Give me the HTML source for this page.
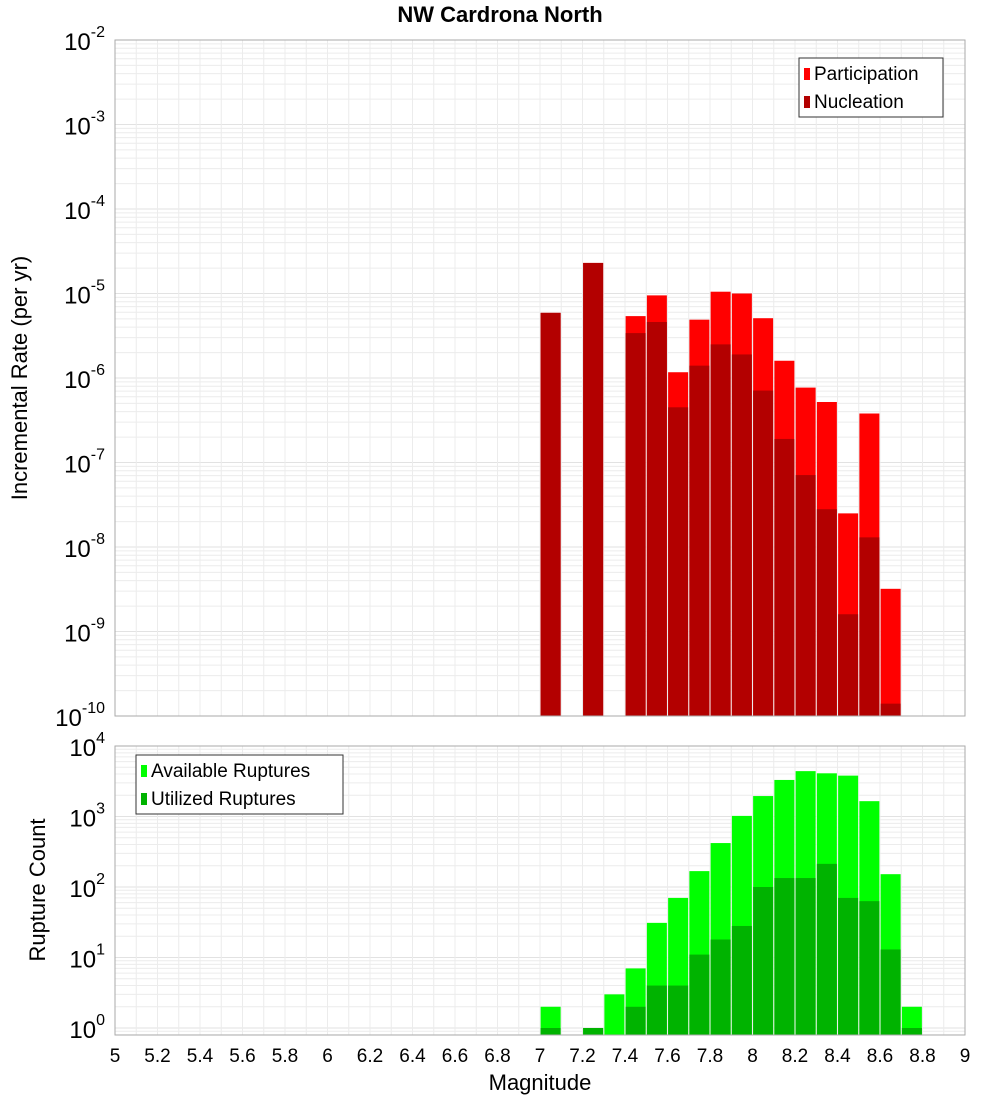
<!DOCTYPE html>
<html><head><meta charset="utf-8"><style>
body{margin:0;background:#fff;}
svg{display:block;font-family:"Liberation Sans","DejaVu Sans",sans-serif;}
</style></head><body>
<svg id="c" width="1000" height="1100" xmlns="http://www.w3.org/2000/svg"></svg>
<script>
const mags = [7.05,7.25,7.45,7.55,7.65,7.75,7.85,7.95,8.05,8.15,8.25,8.35,8.45,8.55,8.65];
const participation = [5.9e-6,2.3e-5,5.4e-6,9.5e-6,1.17e-6,4.9e-6,1.05e-5,1.0e-5,5.1e-6,1.6e-6,7.7e-7,5.2e-7,2.5e-8,3.8e-7,3.2e-9];
const nucleation = [5.9e-6,2.3e-5,3.4e-6,4.6e-6,4.5e-7,1.4e-6,2.5e-6,1.9e-6,7.1e-7,1.9e-7,7.1e-8,2.8e-8,1.6e-9,1.3e-8,1.4e-10];
const countMags = [7.05,7.25,7.35,7.45,7.55,7.65,7.75,7.85,7.95,8.05,8.15,8.25,8.35,8.45,8.55,8.65,8.75];
const available = [2,1,3,7,31,70,168,420,1020,1950,3300,4400,4100,3800,1650,152,2];
const utilized = [1,1,0,2,4,4,11,18,28,100,134,134,213,70,63,13,1];
const xTicks = [5,5.2,5.4,5.6,5.8,6,6.2,6.4,6.6,6.8,7,7.2,7.4,7.6,7.8,8,8.2,8.4,8.6,8.8,9];
const topExps = [-2,-3,-4,-5,-6,-7,-8,-9,-10];
const botExps = [4,3,2,1,0];

const NS="http://www.w3.org/2000/svg", svg=document.getElementById('c');
function el(t,a,p){const e=document.createElementNS(NS,t);for(const k in a)e.setAttribute(k,a[k]);(p||svg).appendChild(e);return e;}
const L=115,R=965;
const x=m=>L+(m-5)*(R-L)/4;
const T1=40,B1=716, yTop=v=>T1+(-2-Math.log10(v))*(B1-T1)/8;
const T2=746, y0=1028, B2=1035, D2=(y0-T2)/4, yBot=v=>y0-Math.log10(v)*D2;

// grids
function grid(top,bot,yf,eLo,eHi){
  const g=el('g',{});
  
  for(let e=eLo;e<eHi;e++)for(let k=1;k<10;k++){const v=k*Math.pow(10,e),y=yf(v);if(y<top-0.5||y>bot+0.5)continue;
    el('line',{x1:L,x2:R,y1:y,y2:y,stroke:k==1?'#e2e2e2':'#ececec','stroke-width':1},g);}
  for(let m=5.1;m<9;m+=0.1){const xx=x(m);el('line',{x1:xx,x2:xx,y1:top,y2:bot,stroke:'#ececec','stroke-width':1},g);}
}
grid(T1,B1,yTop,-10,-1);
grid(T2,B2,yBot,-1,5);

// top bars
const bw=20;
mags.forEach((m,i)=>{
  const r=el('rect',{x:x(m)-bw/2,y:yTop(participation[i]),width:bw,height:B1-yTop(participation[i]),fill:'#ff0000'});
  
  const n=el('rect',{x:x(m)-bw/2,y:yTop(nucleation[i]),width:bw,height:B1-yTop(nucleation[i]),fill:'#b30000'});
  
});
countMags.forEach((m,i)=>{
  const a=el('rect',{x:x(m)-bw/2,y:yBot(available[i]),width:bw,height:B2-yBot(available[i]),fill:'#00ff00'});
  
  if(utilized[i]>0){const u=el('rect',{x:x(m)-bw/2,y:yBot(utilized[i]),width:bw,height:B2-yBot(utilized[i]),fill:'#00b300'});
  }
});

// frames
el('rect',{x:L,y:T1,width:R-L,height:B1-T1,fill:'none',stroke:'#aaa'});
el('rect',{x:L,y:T2,width:R-L,height:B2-T2,fill:'none',stroke:'#aaa'});

// y tick labels
function ylab(y,e,name){const t=el('text',{x:105,y:y+10,'text-anchor':'end','font-size':24,fill:'#000'});
  
  t.textContent='10';const s=el('tspan',{dy:-13,'font-size':16},t);s.textContent=e;}
topExps.forEach(e=>ylab(yTop(Math.pow(10,e)),String(e),'y-tick-label'));
botExps.forEach(e=>ylab(yBot(Math.pow(10,e)),String(e),'count-tick-label'));

// x ticks
xTicks.forEach(m=>{const t=el('text',{x:x(m),y:1062,'text-anchor':'middle','font-size':19,fill:'#000'});
  t.textContent=String(m);});

// titles
let t=el('text',{x:500,y:22,'text-anchor':'middle','font-size':22,'font-weight':'bold'});t.textContent='NW Cardrona North';

t=el('text',{x:540,y:1090,'text-anchor':'middle','font-size':22});t.textContent='Magnitude';

t=el('text',{x:0,y:0,'text-anchor':'middle','font-size':22,transform:'translate(27,378) rotate(-90)'});t.textContent='Incremental Rate (per yr)';

t=el('text',{x:0,y:0,'text-anchor':'middle','font-size':22,transform:'translate(45,890) rotate(-90)'});t.textContent='Rupture Count';


// legends
function legend(x0,y0,w,items,name){const g=el('g',{});
  el('rect',{x:x0,y:y0,width:w,height:59,fill:'#fff',stroke:'#333'},g);
  items.forEach((it,i)=>{el('rect',{x:x0+5,y:y0+10+i*28,width:6,height:12,fill:it[1]},g);
    const tx=el('text',{x:x0+15,y:y0+22+i*28,'font-size':19},g);tx.textContent=it[0];
    });}
legend(799,58,144,[['Participation','#ff0000'],['Nucleation','#b30000']],'rate-legend');
legend(136,755,207,[['Available Ruptures','#00ff00'],['Utilized Ruptures','#00b300']],'count-legend');
</script>
</body></html>
